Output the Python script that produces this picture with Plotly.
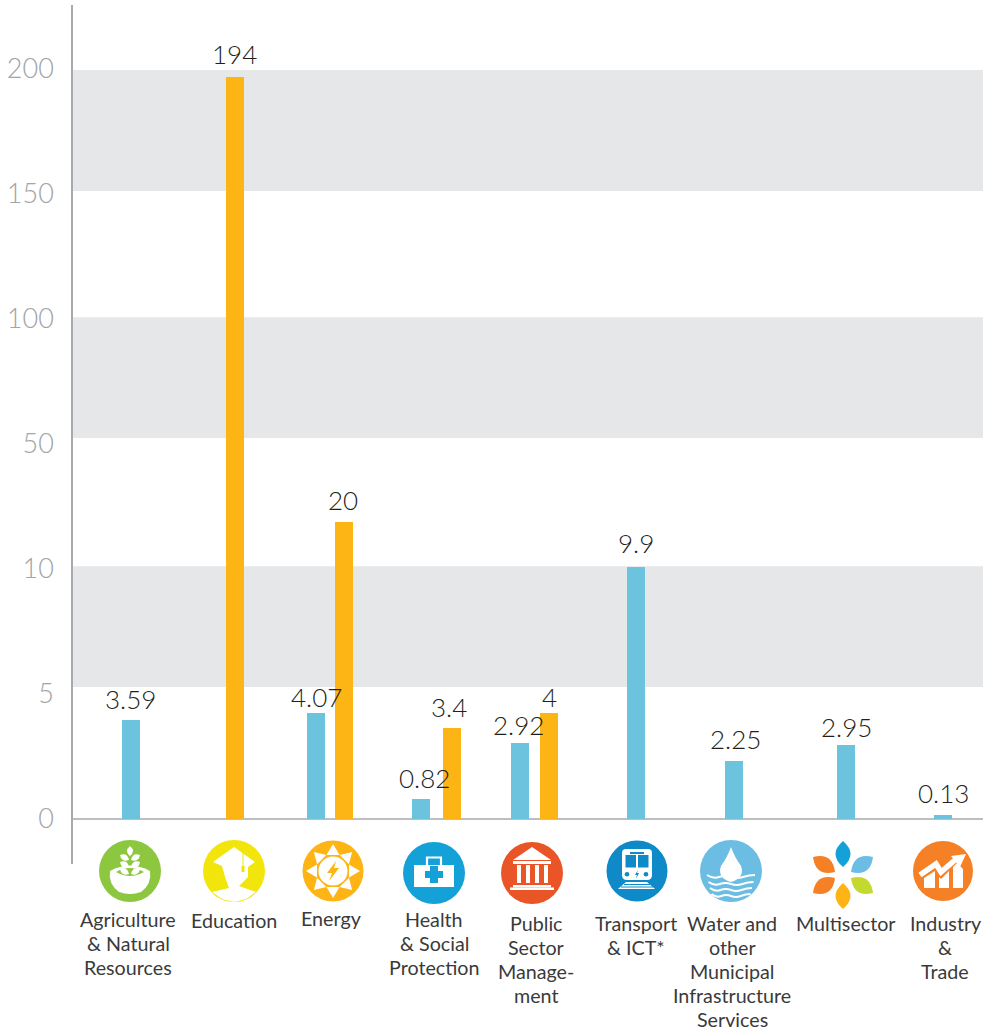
import math
import numpy as np
import plotly.graph_objects as go

# ---- data ----
tick_labels = [0, 5, 10, 50, 100, 150, 200]
categories = ["Agriculture\n& Natural\nResources", "Education", "Energy",
              "Health\n& Social\nProtection", "Public\nSector\nManage-\nment",
              "Transport\n& ICT*", "Water and\nother\nMunicipal\nInfrastructure\nServices",
              "Multisector", "Industry\n&\nTrade"]
blue_labels = ["3.59", None, "4.07", "0.82", "2.92", "9.9", "2.25", "2.95", "0.13"]
orange_labels = [None, "194", "20", "3.4", "4", None, None, None, None]
# bar heights as read on the printed (broken) scale
blue_values = [3.96, None, 4.24, 0.8, 3.04, 10.6, 2.32, 2.96, 0.16]
orange_values = [None, 196.5, 25.0, 3.64, 4.24, None, None, None, None]

# ---- layout constants ----
W, H = 992, 1030
PX0, PX1, PY0, PY1 = 72, 983, 5, 864
Y_ZERO, SLOT = 819, 125.1
blue_x = [131, None, 316, 421, 520, 636, 734, 846, 943]
orange_x = [None, 235, 344, 452, 549, None, None, None, None]
blue_label_x = [130, None, 316, 424, 518, 636, 735, 846, 943]
orange_label_x = [None, 234, 343, 449, 549, None, None, None, None]
blue_label_gap = [21, None, 16, 21, 18, 24, 22, 18, 22]
orange_label_gap = [None, 23, 22, 21, 16, None, None, None, None]
cat_x = [128, 234, 331, 434, 536, 636, 732, 846, 945]
cat_y = [919, 920, 918, 919, 923, 923, 923, 923, 923]
BLUE, ORANGE, GREY = "#6cc3de", "#fdb415", "#e6e7e8"
AXIS, TICK, INK = "#a7a9ac", "#a2a4a7", "#231f20"
FONT = "Lato Light, Lato"
CAT_FONT = "Lato"


def to_slot(v):
    return float(np.interp(v, tick_labels, range(len(tick_labels))))


fig = go.Figure()
for xs, vals, col in [(blue_x, blue_values, BLUE), (orange_x, orange_values, ORANGE)]:
    px = [x for x, v in zip(xs, vals) if v is not None]
    py = [to_slot(v) for v in vals if v is not None]
    fig.add_trace(go.Bar(x=px, y=py, width=18, marker=dict(color=col, line_width=0),
                         hoverinfo="skip", showlegend=False))
# invisible trace on the pixel axes so they exist
fig.add_trace(go.Scatter(x=[0], y=[0], xaxis="x2", yaxis="y2", mode="markers",
                         marker=dict(opacity=0), hoverinfo="skip", showlegend=False))

shapes = []
# bands
for lo, hi in [(1.055, 2.02), (3.045, 4.01), (5.02, 5.987)]:
    shapes.append(dict(type="rect", xref="x", yref="y", x0=PX0, x1=PX1, y0=lo, y1=hi,
                       fillcolor=GREY, line=dict(width=0), layer="below"))
shapes.append(dict(type="line", xref="x", yref="y", x0=PX0, x1=PX1, y0=0, y1=0,
                   line=dict(color=AXIS, width=1.5), layer="below"))


def add(path, fill="#ffffff"):
    shapes.append(dict(type="path", xref="x2", yref="y2", path=path, fillcolor=fill,
                       line=dict(width=0), layer="above"))


def stroke(path, w, color="#ffffff"):
    shapes.append(dict(type="path", xref="x2", yref="y2", path=path, fillcolor="rgba(0,0,0,0)",
                       line=dict(color=color, width=w), layer="above"))


def circle(cx, cy, r, fill):
    shapes.append(dict(type="circle", xref="x2", yref="y2", x0=cx - r, x1=cx + r, y0=cy - r, y1=cy + r,
                       fillcolor=fill, line=dict(width=0), layer="above"))


def poly(cx, cy, pts, fill="#ffffff"):
    add("M " + " L ".join(f"{cx + a:.2f} {cy + b:.2f}" for a, b in pts) + " Z", fill)


def rect(cx, cy, a0, b0, a1, b1, fill="#ffffff"):
    poly(cx, cy, [(a0, b0), (a1, b0), (a1, b1), (a0, b1)], fill)


def leaf(cx, cy, a0, b0, a1, b1, bulge, fill="#ffffff"):
    ma, mb = (a0 + a1) / 2, (b0 + b1) / 2
    da, db = a1 - a0, b1 - b0
    n = math.hypot(da, db)
    ox, oy = -db / n * bulge, da / n * bulge
    add(f"M {cx + a0:.2f} {cy + b0:.2f} Q {cx + ma + ox:.2f} {cy + mb + oy:.2f} {cx + a1:.2f} {cy + b1:.2f} "
        f"Q {cx + ma - ox:.2f} {cy + mb - oy:.2f} {cx + a0:.2f} {cy + b0:.2f} Z", fill)


# green: agriculture
c = (130, 871)
circle(*c, 31, "#8dc63f")
add("M 110 871 Q 130 860 150 871 Q 152 884 141 892 Q 130 896 119 892 Q 108 884 110 871 Z")
add("M 116 872 Q 130 864 144 872 Q 130 880 116 872 Z", "#8dc63f")
leaf(*c, 0, -25, 0, -15, 6)
for b in (-15, -8, -1):
    leaf(*c, -1, b + 4, -10, b - 1, 6)
    leaf(*c, 1, b + 4, 10, b - 1, 6)

# yellow: education
c = (234, 871)
circle(*c, 31, "#f1e50b")
poly(*c, [(-21, -9), (0, -24), (21, -9), (14, -4), (14, 6), (5, 15), (22, 21), (12, 28), (0, 31),
          (-12, 28), (-22, 21), (-5, 17), (-9, 6), (-12, -5)])
rect(*c, 8.5, -19, 9.5, -2, "#f1e50b")
rect(*c, 7.5, -5, 10.5, 1, "#f1e50b")

# sun: energy
c = (333, 871)
circle(*c, 30.5, "#fdb414")
for i in range(8):
    t = i * math.pi / 4
    u, v = math.cos(t), math.sin(t)
    poly(*c, [(27 * u, 27 * v), (16 * u - 6.5 * v, 16 * v + 6.5 * u), (16 * u + 6.5 * v, 16 * v - 6.5 * u)])
circle(*c, 14.5, "#ffffff")
poly(*c, [(3, -10), (-6, 2), (-1, 2), (-4, 10), (6, -3), (1, -3)], "#fdb414")

# health
c = (434, 873)
circle(*c, 31, "#13a1d8")
stroke("M 427 866 V 857.5 H 441 V 866", 2.2)
rect(*c, -20, -8, 20, 14)
rect(*c, -4, -7, 4, 10, "#13a1d8")
rect(*c, -9, -2, 9, 5, "#13a1d8")

# public sector
c = (532, 873)
circle(*c, 31, "#e95526")
poly(*c, [(0, -26), (19, -13), (-19, -13)])
rect(*c, -19, -12, 19, -9)
for a in (-15, -6, 3, 12):
    rect(*c, a, -8, a + 4, 10)
rect(*c, -19, 12, 19, 14.5)
rect(*c, -22, 14.5, 22, 17)

# transport
c = (637, 871)
circle(*c, 30.5, "#0d8ac7")
add("M 626 849 H 648 Q 652 849 652 853 V 875 Q 652 880 647 880 H 627 Q 622 880 622 875 V 853 Q 622 849 626 849 Z")
rect(*c, -7, -19, 7, -17, "#0d8ac7")
rect(*c, -11.5, -16, -1, -3.5, "#0d8ac7")
rect(*c, 1, -16, 11.5, -3.5, "#0d8ac7")
circle(627, 874.3, 2.3, "#0d8ac7")
circle(646, 874.3, 2.3, "#0d8ac7")
poly(*c, [(1, -1), (-2, 4), (0, 4), (-1, 8), (2, 2), (0, 2)], "#0d8ac7")
poly(*c, [(-11, 11), (10, 11), (18, 18), (-19, 18)])
rect(*c, -13, 13, 13, 14, "#0d8ac7")
rect(*c, -16, 15.5, 16, 16.5, "#0d8ac7")

# water
c = (731, 871)
circle(*c, 31, "#6cbde3")
add("M 731 847 Q 735 858 741 866 Q 745 878 731 882 Q 717 878 721 866 Q 727 858 731 847 Z")
for i, b in enumerate((4, 11, 17, 23)):
    y = c[1] + b
    x0, x1 = 707 + i * 1.5, 755 - i * 1.5
    m = (x1 - x0) / 4
    stroke(f"M {x0} {y} Q {x0 + m / 2} {y + 4} {x0 + m} {y + 2} Q {x0 + 1.5 * m} {y} {x0 + 2 * m} {y + 2} "
           f"Q {x0 + 2.5 * m} {y + 4} {x0 + 3 * m} {y + 2} Q {x0 + 3.5 * m} {y} {x1} {y}", 2)
circle(731, 870, 10.5, "#ffffff")

# multisector
c = (843, 875)
leaf(*c, 0, -34, 0, -8, 15, "#13a1d8")
leaf(*c, 0, 34, 0, 8, 15, "#fdb414")
leaf(*c, 30, -18, 8, -3, 15, "#6cbde3")
leaf(*c, 30, 18, 8, 3, 15, "#c4d92e")
leaf(*c, -30, -18, -8, -3, 15, "#f58025")
leaf(*c, -30, 18, -8, 3, 15, "#f58025")

# industry
c = (943, 871)
circle(*c, 30, "#f58025")
poly(*c, [(-19, 17), (-19, 7), (-8, 0), (-8, 17)])
poly(*c, [(-4, 17), (-4, 6), (-2, 8), (6, 0), (6, 17)])
poly(*c, [(10, 17), (10, -4), (14, -8), (20, -2), (20, 17)])
stroke(f"M {c[0] - 23} {c[1] + 4} L {c[0] - 7} {c[1] - 7} L {c[0] - 2} {c[1] + 1} L {c[0] + 12} {c[1] - 11}", 5.5)
poly(*c, [(23, -17), (8, -15), (17, -4)])

# text
ann = []


def text(x, y, s, size, color, font=FONT):
    ann.append(dict(x=x, y=y, xref="x2", yref="y2", text=s, showarrow=False, xanchor="center",
                    yanchor="middle", font=dict(family=font, size=size, color=color)))


for xs, vals, labs, gaps in [(blue_label_x, blue_values, blue_labels, blue_label_gap),
                             (orange_label_x, orange_values, orange_labels, orange_label_gap)]:
    for x, v, s, g in zip(xs, vals, labs, gaps):
        if s is None:
            continue
        top = Y_ZERO - to_slot(v) * SLOT
        text(x, top - g, s, 26, INK)

for x, y, s in zip(cat_x, cat_y, categories):
    for i, line in enumerate(s.split("\n")):
        text(x, y + i * 24, line, 19.7, "#3a3a3a", CAT_FONT)

fig.update_layout(
    width=W, height=H, margin=dict(l=0, r=0, t=0, b=0), autosize=False,
    paper_bgcolor="#ffffff", plot_bgcolor="rgba(0,0,0,0)", showlegend=False, bargap=0,
    barmode="overlay",
    shapes=shapes, annotations=ann,
    xaxis=dict(domain=[PX0 / W, PX1 / W], range=[PX0, PX1], visible=False, fixedrange=True),
    yaxis=dict(domain=[(H - PY1) / H, (H - PY0) / H],
               anchor="free", position=PX0 / W,
               range=[(Y_ZERO - PY1) / SLOT, (Y_ZERO - PY0) / SLOT],
               tickmode="array", tickvals=list(range(len(tick_labels))), ticktext=[str(t) for t in tick_labels],
               tickfont=dict(family=FONT, size=27, color=TICK), ticks="", ticklabelstandoff=12,
               showgrid=False, zeroline=False, showline=True, linecolor=AXIS, linewidth=1.5, fixedrange=True),
    xaxis2=dict(domain=[0, 1], range=[0, W], visible=False, fixedrange=True, anchor="y2"),
    yaxis2=dict(domain=[0, 1], range=[H, 0], visible=False, fixedrange=True, anchor="x2"),
)
fig.write_html("out.html", config=dict(displayModeBar=False),
               post_script="document.body.style.margin='0';document.body.style.overflow='hidden';")
